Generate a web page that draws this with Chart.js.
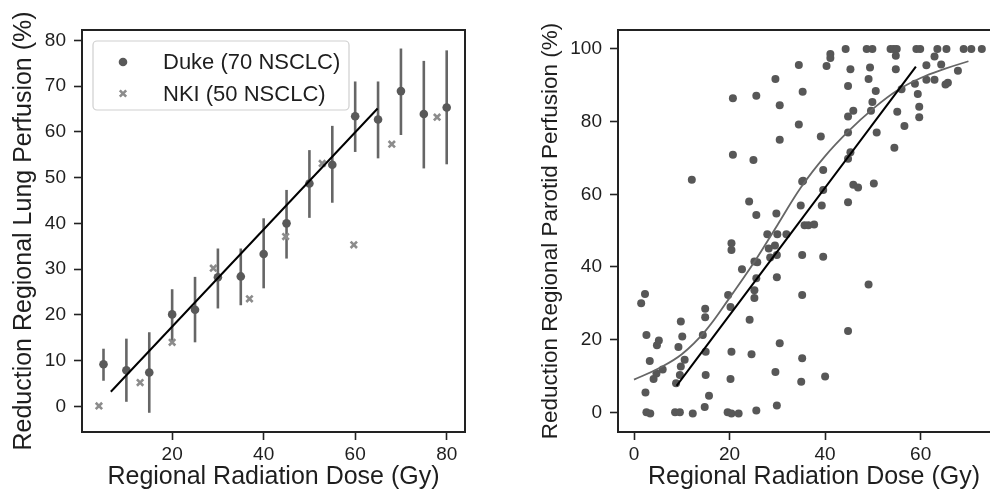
<!DOCTYPE html>
<html>
<head>
<meta charset="utf-8">
<script src="https://cdn.jsdelivr.net/npm/chart.js@4.4.1/dist/chart.umd.min.js"></script>
<style>
	html, body { margin: 0; padding: 0; background: #fff; width: 990px; height: 492px; overflow: hidden; position: relative; }
	#lung { position: absolute; left: 0; top: 0; }
	#parotid { position: absolute; left: 500px; top: 0; }
</style>
</head>
<body>
<canvas id="lung" width="490" height="492"></canvas>
<canvas id="parotid" width="530" height="492"></canvas>
<script>
// ---- Lung panel (left) ----
const lungDose = [5, 10, 15, 20, 25, 30, 35, 40, 45, 50, 55, 60, 65, 70, 75, 80];
const dukeMean = [9.2, 7.9, 7.4, 20.1, 21.1, 28.2, 28.4, 33.3, 40.0, 48.7, 52.8, 63.4, 62.7, 68.9, 63.9, 65.3];
const dukeUpper = [12.6, 14.8, 16.2, 25.6, 28.3, 34.5, 34.5, 41.1, 47.3, 56.0, 61.3, 71.0, 71.0, 78.2, 75.5, 77.8];
const dukeLower = [5.6, 1.0, -1.4, 14.1, 14.0, 21.4, 22.1, 25.8, 32.3, 41.2, 44.5, 55.6, 54.2, 59.3, 52.0, 52.9];
const nkiDose = [4.0, 13.0, 20.0, 29.0, 36.9, 44.8, 52.8, 59.7, 68.0, 77.9];
const nkiValue = [0.1, 5.2, 14.0, 30.2, 23.5, 37.1, 53.1, 35.3, 57.3, 63.2];
const lungFitDose = [6.6, 64.9];
const lungFitValue = [3.2, 65.1];
const lungXTicks = [20, 40, 60, 80];
const lungYTicks = [0, 10, 20, 30, 40, 50, 60, 70, 80];

// ---- Parotid panel (right) ----
const parotidDose = [
	34.5, 29.6, 35.3, 20.7, 25.6, 30.5, 34.5, 30.5, 20.7, 25.0, 12.1, 35.2, 24.1, 34.9, 25.6, 29.8, 35.4,
	44.3, 48.7, 49.9, 53.7, 54.4, 55.0, 59.1, 59.9, 63.5, 65.4, 69.0, 70.6, 72.8,
	41.1, 41.1, 54.8, 62.9, 40.3, 45.3, 49.4, 54.8, 61.2, 64.3, 67.8, 49.1, 44.8, 61.2, 62.9, 58.8, 65.7, 65.2,
	50.6, 56.0, 59.4, 49.9, 45.9, 49.6, 55.1, 59.7, 59.7, 44.8, 56.6, 50.8, 44.8, 39.1, 54.5, 45.3, 44.8,
	39.6, 45.9, 46.9, 39.6, 50.2, 39.3, 44.8, 35.7, 36.5, 37.7,
	27.9, 30.0, 31.9, 20.4, 20.4, 28.2, 29.5, 28.5, 29.9, 22.6, 25.2, 25.8, 35.2, 39.6, 29.9, 25.6, 25.2, 25.2,
	35.2, 2.3, 1.5, 19.7, 20.2, 14.9, 14.9, 9.8, 24.2, 2.6, 10.1, 14.4, 4.8, 5.2, 9.3, 15.0, 20.4, 24.6, 30.5,
	35.2, 3.3, 10.6, 6.0, 4.7, 4.1, 9.8, 9.6, 8.8, 15.0, 20.2, 29.6, 35.0, 2.4, 15.7, 14.8, 25.6, 29.9,
	2.6, 3.4, 8.6, 9.6, 12.3, 19.6, 20.4, 21.9, 49.1, 44.8, 40.0
];
const parotidValue = [
	95.6, 91.7, 88.2, 86.4, 87.1, 84.5, 79.2, 75.0, 70.9, 69.4, 64.0, 63.5, 58.0, 56.9, 54.3, 54.7, 63.7,
	100, 100, 100, 100, 100, 100, 100, 100, 100, 100, 100, 100, 100,
	98.6, 97.5, 98.1, 97.9, 95.3, 94.4, 94.9, 94.4, 95.5, 95.7, 94.0, 91.7, 89.8, 91.5, 91.5, 90.4, 90.7, 90.2,
	88.4, 88.9, 87.6, 85.4, 83.0, 83.0, 82.7, 84.1, 81.2, 81.4, 78.8, 77.0, 77.0, 75.9, 72.8, 71.6, 69.8,
	66.7, 62.6, 61.9, 61.2, 63.0, 56.9, 57.8, 51.5, 51.5, 51.7,
	49.0, 49.0, 49.0, 46.5, 44.7, 45.1, 45.9, 42.6, 43.3, 39.4, 41.5, 41.3, 43.3, 42.8, 37.2, 36.9, 33.6, 31.5,
	32.3, 32.6, 30.0, 32.3, 29.0, 28.5, 26.2, 25.0, 25.5, 21.3, 20.9, 21.3, 18.5, 19.8, 18.0, 16.7, 16.7, 16.0, 19.0,
	14.9, 14.1, 14.5, 11.8, 10.7, 9.2, 12.6, 10.3, 8.0, 10.3, 9.2, 11.1, 8.4, 5.5, 4.6, 1.5, 0.5, 1.9,
	0, -0.3, 0, 0, -0.3, 0, -0.3, -0.3, 35.2, 22.4, 9.9
];
const parotidCurveDose = [0, 5, 10, 15, 20, 25, 30, 35, 40, 45, 50, 55, 60, 65, 70];
const parotidCurveValue = [9, 12, 16, 22.5, 31.5, 41, 51.5, 62, 70.5, 77.5, 83.5, 88.5, 92, 94.5, 96.6];
const parotidFitDose = [8.9, 59.0];
const parotidFitValue = [7.3, 95.1];
const parotidXTicks = [0, 20, 40, 60];
const parotidYTicks = [0, 20, 40, 60, 80, 100];

const FONT = "'Liberation Sans', Arial, sans-serif";
const TEXT = "#1e1e1e";

function pts(xs, ys) {
	return xs.map((x, i) => ({ x: x, y: ys[i] }));
}

// Frame round the plot area (matplotlib style box)
const frame = {
	id: "frame",
	afterDraw(chart) {
		const { ctx, chartArea: a } = chart;
		ctx.save();
		ctx.strokeStyle = "#222";
		ctx.lineWidth = 2;
		ctx.strokeRect(a.left, a.top, a.right - a.left, a.bottom - a.top);
		ctx.restore();
	},
};

// Vertical error bars for the Duke series
const errorBars = {
	id: "errorBars",
	beforeDatasetsDraw(chart) {
		const { ctx, scales } = chart;
		ctx.save();
		ctx.strokeStyle = "#666";
		ctx.lineWidth = 2.6;
		lungDose.forEach((d, i) => {
			const x = scales.x.getPixelForValue(d);
			ctx.beginPath();
			ctx.moveTo(x, scales.y.getPixelForValue(dukeUpper[i]));
			ctx.lineTo(x, scales.y.getPixelForValue(dukeLower[i]));
			ctx.stroke();
		});
		ctx.restore();
	},
};

// Boxed legend in the top left corner of the plot area
const boxLegend = {
	id: "boxLegend",
	afterDraw(chart) {
		const { ctx, chartArea: a } = chart;
		const x0 = a.left + 11, y0 = a.top + 11, w = 256, h = 69;
		ctx.save();
		ctx.strokeStyle = "#cfcfcf";
		ctx.lineWidth = 1.2;
		ctx.fillStyle = "rgba(255,255,255,0.85)";
		ctx.beginPath();
		ctx.roundRect(x0, y0, w, h, 4);
		ctx.fill();
		ctx.stroke();
		const items = chart.data.datasets.filter((ds) => ds.inLegend);
		items.forEach((ds, i) => {
			const cy = y0 + 21 + i * 31.5;
			const cx = x0 + 30;
			if (ds.pointStyle === "circle") {
				ctx.fillStyle = ds.backgroundColor;
				ctx.beginPath();
				ctx.arc(cx, cy, 4.3, 0, Math.PI * 2);
				ctx.fill();
			} else {
				ctx.strokeStyle = ds.borderColor;
				ctx.lineWidth = 2.6;
				ctx.beginPath();
				ctx.moveTo(cx - 3.2, cy - 3.2);
				ctx.lineTo(cx + 3.2, cy + 3.2);
				ctx.moveTo(cx + 3.2, cy - 3.2);
				ctx.lineTo(cx - 3.2, cy + 3.2);
				ctx.stroke();
			}
			ctx.fillStyle = TEXT;
			ctx.font = "22px " + FONT;
			ctx.textBaseline = "middle";
			ctx.fillText(ds.label, x0 + 70, cy + 1);
		});
		ctx.restore();
	},
};

function axis(min, max, tickValues, title, titleSize, titlePad, fixedSize, isY) {
	return {
		type: "linear",
		min: min,
		max: max,
		afterBuildTicks: (s) => {
			s.ticks = tickValues.map((v) => ({ value: v }));
		},
		afterFit: (s) => {
			if (isY) s.width = fixedSize;
			else s.height = fixedSize;
		},
		border: { display: false },
		grid: {
			drawOnChartArea: false,
			drawTicks: true,
			tickLength: 8,
			tickColor: "#222",
			tickWidth: 1.6,
		},
		ticks: {
			color: TEXT,
			font: { family: FONT, size: 19 },
			padding: isY ? 8 : 3,
			maxRotation: 0,
			autoSkip: false,
		},
		title: {
			display: true,
			text: title,
			color: TEXT,
			font: { family: FONT, size: titleSize },
			padding: titlePad,
		},
	};
}

Chart.defaults.animation = false;

new Chart(document.getElementById("lung"), {
	type: "scatter",
	data: {
		datasets: [
			{
				label: "Regression",
				type: "line",
				data: pts(lungFitDose, lungFitValue),
				borderColor: "#000",
				borderWidth: 2,
				pointRadius: 0,
				fill: false,
				order: 0,
			},
			{
				label: "Duke (70 NSCLC)",
				inLegend: true,
				data: pts(lungDose, dukeMean),
				pointStyle: "circle",
				pointRadius: 4.3,
				backgroundColor: "#595959",
				borderWidth: 0,
				order: 1,
			},
			{
				label: "NKI (50 NSCLC)",
				inLegend: true,
				data: pts(nkiDose, nkiValue),
				pointStyle: "crossRot",
				pointRadius: 4.5,
				borderColor: "#8c8c8c",
				borderWidth: 2.6,
				order: 2,
			},
		],
	},
	options: {
		responsive: false,
		layout: { padding: { top: 30, right: 25, left: 0, bottom: 0 } },
		plugins: { legend: { display: false }, tooltip: { enabled: false } },
		scales: {
			x: axis(0.3, 84, lungXTicks, "Regional Radiation Dose (Gy)", 25, { top: 0, bottom: 0 }, 60, false),
			y: axis(-5.6, 82.25, lungYTicks, "Reduction Regional Lung Perfusion (%)", 25, { top: 9, bottom: 0 }, 82, true),
		},
	},
	plugins: [errorBars, frame, boxLegend],
});

new Chart(document.getElementById("parotid"), {
	type: "scatter",
	data: {
		datasets: [
			{
				label: "Regression",
				type: "line",
				data: pts(parotidFitDose, parotidFitValue),
				borderColor: "#000",
				borderWidth: 2,
				pointRadius: 0,
				fill: false,
				order: 0,
			},
			{
				label: "Smooth fit",
				type: "line",
				data: pts(parotidCurveDose, parotidCurveValue),
				borderColor: "#666",
				borderWidth: 1.8,
				pointRadius: 0,
				tension: 0.4,
				fill: false,
				order: 1,
			},
			{
				label: "Parotid",
				data: pts(parotidDose, parotidValue),
				pointStyle: "circle",
				pointRadius: 4,
				backgroundColor: "#575757",
				borderWidth: 0,
				order: 2,
			},
		],
	},
	options: {
		responsive: false,
		layout: { padding: { top: 30, right: 20, left: 0, bottom: 0 } },
		plugins: { legend: { display: false }, tooltip: { enabled: false } },
		scales: {
			x: axis(-3.35, 78.7, parotidXTicks, "Regional Radiation Dose (Gy)", 25, { top: 0, bottom: 0 }, 60, false),
			y: axis(-5.4, 105.2, parotidYTicks, "Reduction Regional Parotid Perfusion (%)", 22.5, { top: 37, bottom: 0 }, 118, true),
		},
	},
	plugins: [frame],
});
</script>
</body>
</html>
